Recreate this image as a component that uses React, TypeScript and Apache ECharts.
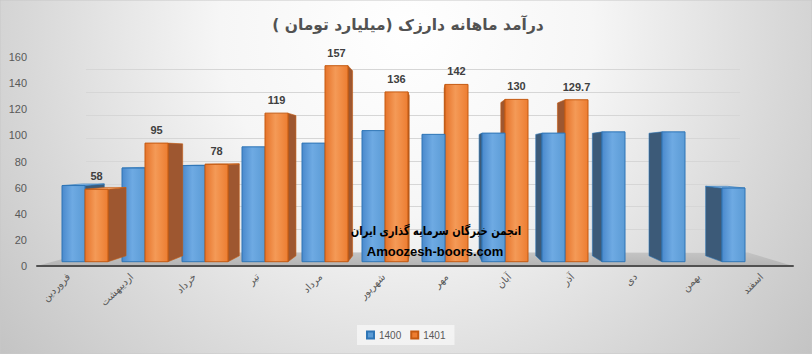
import React, { useEffect, useRef } from 'react';
import * as echarts from 'echarts';

const months = ['فروردین', 'اردیبهشت', 'خرداد', 'تیر', 'مرداد', 'شهریور', 'مهر', 'آبان', 'آذر', 'دی', 'بهمن', 'اسفند'];
const values1400 = [61, 75, 77, 92, 95, 105, 102, 103, 103, 104, 104, 59];
const values1401 = [58, 95, 78, 119, 157, 136, 142, 130, 129.7];
const seriesNames = ['1400', '1401'];
const yMin = 0;
const yMax = 160;
const yInterval = 20;
const titleText = 'درآمد ماهانه دارزک (میلیارد تومان )\u200F';
const watermark1 = 'انجمن خبرگان سرمایه گذاری ایران';
const watermark2 = 'Amoozesh-boors.com';

const W = 812;
const H = 354;
const FA = '"DejaVu Sans", sans-serif';
const LAT = '"Liberation Sans", Arial, sans-serif';

const palette: any = {
  blue: {
    front: ['#4a89cc', '#6eaae3', '#5b9bd5'],
    stroke: '#2e75b6',
    side: '#3c5a78',
    top: '#8fbde9',
  },
  orange: {
    front: ['#e5732a', '#f49a57', '#ed7d31'],
    stroke: '#c55a11',
    side: '#9e5730',
    top: '#f6ab74',
  },
};

function make3D(kind: 'blue' | 'orange', showLabel: boolean) {
  const c = palette[kind];
  return (params: any, api: any) => {
    const i = api.value(0);
    const v = api.value(1);
    const band = api.size([1, 0])[0];
    const base = api.coord([i, 0]);
    const top = api.coord([i, v]);
    const w = (band * 23) / 60;
    const x0 = kind === 'blue' ? base[0] - w : base[0];
    const x1 = x0 + w;
    const yT = top[1];
    const yB = base[1];
    const first = api.coord([0, 0])[0];
    const vx = first + 5.75 * band;
    const vy = api.coord([0, 84])[1];
    const k = 0.944;
    const P = (x: number, y: number) => [vx + (x - vx) * k, vy + (y - vy) * k];
    const leftHalf = base[0] < vx;
    const zb = leftHalf ? (kind === 'orange' ? 10 : 5) : kind === 'blue' ? 10 : 5;
    const children: any[] = [];
    if (x1 < vx) {
      children.push({
        type: 'polygon',
        z2: zb,
        shape: { points: [[x1, yT], P(x1, yT), P(x1, yB), [x1, yB]] },
        style: { fill: c.side, stroke: c.stroke, lineWidth: 0.6 },
      });
    } else if (x0 > vx) {
      children.push({
        type: 'polygon',
        z2: zb,
        shape: { points: [[x0, yT], P(x0, yT), P(x0, yB), [x0, yB]] },
        style: { fill: c.side, stroke: c.stroke, lineWidth: 0.6 },
      });
    }
    if (yT > vy) {
      children.push({
        type: 'polygon',
        z2: zb,
        shape: { points: [[x0, yT], [x1, yT], P(x1, yT), P(x0, yT)] },
        style: { fill: c.top, stroke: c.stroke, lineWidth: 0.6 },
      });
    }
    children.push({
      type: 'rect',
      z2: zb + 1,
      shape: { x: x0, y: yT, width: x1 - x0, height: yB - yT },
      style: {
        fill: new echarts.graphic.LinearGradient(0, 0, 1, 0, [
          { offset: 0, color: c.front[0] },
          { offset: 0.45, color: c.front[1] },
          { offset: 1, color: c.front[2] },
        ]),
        stroke: c.stroke,
        lineWidth: 1,
      },
    });
    if (showLabel) {
      children.push({
        type: 'text',
        z2: 30,
        x: (x0 + x1) / 2,
        y: yT - 13,
        style: {
          text: String(v),
          fill: '#404040',
          font: 'bold 11px ' + LAT,
          align: 'center',
          textAlign: 'center',
          verticalAlign: 'middle',
          textVerticalAlign: 'middle',
        },
      });
    }
    return { type: 'group', children };
  };
}

export default function App() {
  const ref = useRef<HTMLDivElement>(null);
  useEffect(() => {
    document.body.style.margin = '0';
    if (!ref.current) return;
    const chart = echarts.init(ref.current, undefined, { renderer: 'svg' });

    // layout constants
    const front = { left: 37, right: 793, y: 266, top: 57 };
    const back = { left: 86, right: 748, y: 252.5 };

    const option: any = {
      animation: false,
      title: {
        text: titleText,
        left: 403,
        textAlign: 'center',
        top: 12,
        textStyle: { fontFamily: FA, fontSize: 15.5, fontWeight: 'bold', color: '#525252' },
      },
      legend: {
        data: seriesNames,
        left: 357,
        top: 325,
        icon: 'rect',
        itemWidth: 7,
        itemHeight: 7,
        itemGap: 9,
        padding: [5, 9, 5, 9],
        backgroundColor: 'rgba(244,244,244,0.9)',
        textStyle: { fontSize: 10, color: '#595959', fontFamily: LAT },
      },
      graphic: [
        {
          type: 'rect',
          z: -100,
          silent: true,
          shape: { x: 0, y: 0, width: W, height: H },
          style: {
            fill: {
              type: 'radial',
              x: W / 2,
              y: 30,
              r: 620,
              global: true,
              colorStops: [
                { offset: 0, color: '#ffffff' },
                { offset: 0.3, color: '#f6f6f6' },
                { offset: 0.6, color: '#d9d9d9' },
                { offset: 1, color: '#b5b5b5' },
              ],
            },
            stroke: '#c8c8c8',
            lineWidth: 1,
          },
        },
        {
          type: 'polygon',
          z: -50,
          silent: true,
          shape: {
            points: [
              [front.left, front.y],
              [front.right, front.y],
              [back.right, back.y],
              [back.left, back.y],
            ],
          },
          style: {
            fill: new echarts.graphic.LinearGradient(0, 0, 0, 1, [
              { offset: 0, color: '#c4c4c4' },
              { offset: 1, color: '#b4b4b4' },
            ]),
          },
        },
        {
          type: 'text',
          z: 100,
          x: 436,
          y: 231,
          scaleX: 0.8,
          style: {
            text: watermark1,
            font: 'bold 12.5px ' + FA,
            fill: '#000000',
            align: 'center',
            textAlign: 'center',
            verticalAlign: 'middle',
            textVerticalAlign: 'middle',
          },
        },
        {
          type: 'text',
          z: 100,
          x: 435,
          y: 251,
          style: {
            text: watermark2,
            font: 'bold 13px ' + LAT,
            fill: '#000000',
            align: 'center',
            textAlign: 'center',
            verticalAlign: 'middle',
            textVerticalAlign: 'middle',
          },
        },
      ],
      grid: [
        { left: front.left, right: W - front.right, top: front.top, bottom: H - front.y },
        { left: 55, right: 37, top: front.top, bottom: H - front.y },
        { left: back.left, right: W - 740, top: 69.4, bottom: H - back.y },
      ],
      xAxis: [
        {
          gridIndex: 0,
          type: 'category',
          data: months,
          boundaryGap: true,
          axisTick: { show: false },
          axisLine: { lineStyle: { color: '#505050', width: 2 } },
          axisLabel: {
            interval: 0,
            rotate: 45,
            margin: 9,
            fontSize: 10,
            color: '#595959',
            fontFamily: FA,
          },
          splitLine: { show: false },
        },
        { gridIndex: 1, type: 'category', data: months, show: false },
        { gridIndex: 2, type: 'value', show: false },
      ],
      yAxis: [
        {
          gridIndex: 0,
          type: 'value',
          min: yMin,
          max: yMax,
          interval: yInterval,
          axisLine: { show: false },
          axisTick: { show: false },
          splitLine: { show: false },
          axisLabel: { fontSize: 11, color: '#595959', margin: 10, fontFamily: LAT },
        },
        { gridIndex: 1, type: 'value', min: -3.44, max: 163.96, show: false, splitLine: { show: false } },
        {
          gridIndex: 2,
          type: 'value',
          min: yMin,
          max: yMax,
          interval: yInterval,
          axisLabel: { show: false },
          axisLine: { show: false },
          axisTick: { show: false },
          splitLine: { show: true, lineStyle: { color: '#d6d6d6', width: 1 } },
        },
      ],
      series: [
        {
          name: seriesNames[0],
          type: 'custom',
          xAxisIndex: 1,
          yAxisIndex: 1,
          itemStyle: { color: '#5b9bd5', borderColor: '#2e75b6', borderWidth: 1 },
          renderItem: make3D('blue', false),
          data: values1400.map((v, i) => [i, v]),
        },
        {
          name: seriesNames[1],
          type: 'custom',
          xAxisIndex: 1,
          yAxisIndex: 1,
          itemStyle: { color: '#ed7d31', borderColor: '#c55a11', borderWidth: 1 },
          renderItem: make3D('orange', true),
          data: values1401.map((v, i) => [i, v]),
        },
      ],
    };
    chart.setOption(option);
    return () => chart.dispose();
  }, []);
  return <div ref={ref} style={{ width: W, height: H }} />;
}
